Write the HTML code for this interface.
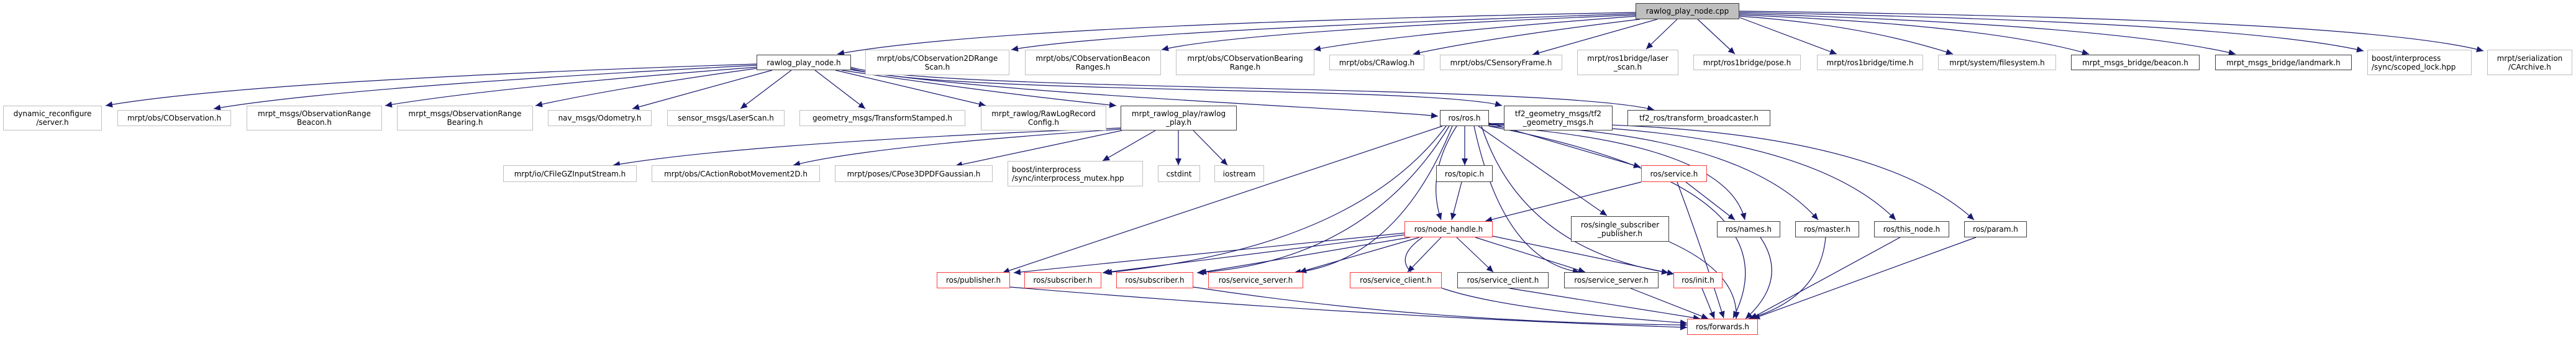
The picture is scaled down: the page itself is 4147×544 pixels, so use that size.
<!DOCTYPE html>
<html><head><meta charset="utf-8">
<style>
html,body{margin:0;padding:0;background:#fff;}
#c{position:relative;width:4147px;height:544px;overflow:hidden;font-family:"DejaVu Sans","Liberation Sans",sans-serif;font-size:12px;color:#000;}
.n{position:absolute;box-sizing:border-box;background:#fff;display:flex;align-items:center;justify-content:center;text-align:center;line-height:14px;white-space:nowrap;}
.g{border:1.5px solid #bfbfbf;}
.b{border:1.5px solid #404040;}
.r{border:1.5px solid #ff3b3b;}
.l{justify-content:flex-start;text-align:left;padding-left:6px;}
svg{position:absolute;left:0;top:0;}
</style></head><body><div id="c">
<svg width="4147" height="544" viewBox="0 0 4147 544">
<defs><marker id="a" markerUnits="userSpaceOnUse" markerWidth="12" markerHeight="10" refX="11" refY="5" orient="auto"><path d="M0,0 L11,5 L0,10 z" fill="#191970"/></marker></defs>
<g fill="none" stroke="#191970" stroke-width="1.2" marker-end="url(#a)">
<path d="M2634,20 Q1600,40 1348,87"/>
<path d="M2634,22 Q1800,50 1628,80"/>
<path d="M2634,24 Q2000,50 1870,80"/>
<path d="M2634,26 Q2250,55 2115,80"/>
<path d="M2640,31 Q2400,60 2275,87"/>
<path d="M2668,31 L2467,88"/>
<path d="M2700,31 L2650,79"/>
<path d="M2733,31 L2793,87"/>
<path d="M2800,28 L2957,87"/>
<path d="M2800,26 Q3000,40 3144,87"/>
<path d="M2800,24 Q3200,40 3363,87"/>
<path d="M2800,22 Q3400,40 3599,87"/>
<path d="M2800,20 Q3600,35 3805,82"/>
<path d="M2800,18 Q3800,30 3998,82"/>
<path d="M1219,103 Q400,130 170,170"/>
<path d="M1219,105 Q550,140 344,175"/>
<path d="M1219,108 Q800,140 620,170"/>
<path d="M1219,110 Q1000,140 862,170"/>
<path d="M1243,113 L1018,175"/>
<path d="M1274,113 L1192,175"/>
<path d="M1312,113 L1393,175"/>
<path d="M1345,113 L1587,170"/>
<path d="M1355,113 Q1600,150 1797,170"/>
<path d="M1369,112 C1600,152 2200,175 2315,187"/>
<path d="M1369,110 C1500,152 2300,138 2418,170"/>
<path d="M1369,108 C1500,148 2500,135 2663,177"/>
<path d="M1804,206 Q1200,230 987,266"/>
<path d="M1804,208 Q1400,235 1277,266"/>
<path d="M1806,210 L1538,267"/>
<path d="M1860,210 L1775,259"/>
<path d="M1897,210 L1897,266"/>
<path d="M1921,210 L1976,266"/>
<path d="M2358,203 L2358,266"/>
<path d="M2397,198 L2641,269"/>
<path d="M2345,203 Q2295,280 2320,354"/>
<path d="M2322,203 L1614,439"/>
<path d="M2328,203 Q2180,400 1779,439"/>
<path d="M2333,203 Q2200,420 1927,439"/>
<path d="M2338,203 Q2250,420 2083,439"/>
<path d="M2380,203 L2587,347"/>
<path d="M2373,203 Q2420,420 2543,438"/>
<path d="M2385,203 Q2450,400 2686,439"/>
<path d="M2397,203 Q2780,230 2809,354"/>
<path d="M2397,201 Q2800,210 2927,354"/>
<path d="M2397,200 Q2900,200 3052,354"/>
<path d="M2397,199 Q3000,190 3178,354"/>
<path d="M2397,203 Q2900,300 2790,512"/>
<path d="M2353,293 L2337,354"/>
<path d="M2642,293 L2391,356"/>
<path d="M2714,293 L2793,354"/>
<path d="M2700,293 Q2740,400 2775,512"/>
<path d="M2261,375 L1632,439"/>
<path d="M2261,378 L1775,439"/>
<path d="M2270,382 L1931,439"/>
<path d="M2285,382 L2092,438"/>
<path d="M2320,382 L2266,438"/>
<path d="M2345,382 L2404,438"/>
<path d="M2375,382 L2552,438"/>
<path d="M2403,380 L2695,441"/>
<path d="M2290,382 Q2150,480 2716,520"/>
<path d="M1626,462 Q2200,510 2716,527"/>
<path d="M1921,462 Q2300,520 2716,523"/>
<path d="M2430,464 L2737,513"/>
<path d="M2625,464 L2750,513"/>
<path d="M2740,464 L2760,513"/>
<path d="M2687,389 Q2800,440 2795,513"/>
<path d="M2834,382 Q2880,450 2810,513"/>
<path d="M2939,382 Q2930,480 2815,513"/>
<path d="M3059,382 L2818,513"/>
<path d="M3181,382 L2822,513"/>
</g>
</svg>

<div class="n b" style="left:2633px;top:5px;width:167px;height:26px;background:#bfbfbf;">rawlog_play_node.cpp</div>

<div class="n b" style="left:1218px;top:88px;width:152px;height:25px;">rawlog_play_node.h</div>
<div class="n g" style="left:1393px;top:80px;width:232px;height:41px;">mrpt/obs/CObservation2DRange<br>Scan.h</div>
<div class="n g" style="left:1650px;top:80px;width:219px;height:41px;">mrpt/obs/CObservationBeacon<br>Ranges.h</div>
<div class="n g" style="left:1893px;top:80px;width:223px;height:41px;">mrpt/obs/CObservationBearing<br>Range.h</div>
<div class="n g" style="left:2140px;top:88px;width:153px;height:25px;">mrpt/obs/CRawlog.h</div>
<div class="n g" style="left:2318px;top:88px;width:197px;height:25px;">mrpt/obs/CSensoryFrame.h</div>
<div class="n g" style="left:2539px;top:80px;width:163px;height:41px;">mrpt/ros1bridge/laser<br>_scan.h</div>
<div class="n g" style="left:2726px;top:88px;width:173px;height:25px;">mrpt/ros1bridge/pose.h</div>
<div class="n g" style="left:2925px;top:88px;width:171px;height:25px;">mrpt/ros1bridge/time.h</div>
<div class="n g" style="left:3120px;top:88px;width:190px;height:25px;">mrpt/system/filesystem.h</div>
<div class="n b" style="left:3334px;top:88px;width:207px;height:25px;">mrpt_msgs_bridge/beacon.h</div>
<div class="n b" style="left:3566px;top:88px;width:220px;height:25px;">mrpt_msgs_bridge/landmark.h</div>
<div class="n g l" style="left:3811px;top:80px;width:168px;height:41px;">boost/interprocess<br>/sync/scoped_lock.hpp</div>
<div class="n g" style="left:4004px;top:80px;width:137px;height:41px;">mrpt/serialization<br>/CArchive.h</div>

<div class="n g" style="left:5px;top:170px;width:159px;height:40px;">dynamic_reconfigure<br>/server.h</div>
<div class="n g" style="left:189px;top:177px;width:183px;height:26px;">mrpt/obs/CObservation.h</div>
<div class="n g" style="left:397px;top:170px;width:218px;height:40px;">mrpt_msgs/ObservationRange<br>Beacon.h</div>
<div class="n g" style="left:639px;top:170px;width:219px;height:40px;">mrpt_msgs/ObservationRange<br>Bearing.h</div>
<div class="n g" style="left:882px;top:177px;width:167px;height:26px;">nav_msgs/Odometry.h</div>
<div class="n g" style="left:1074px;top:177px;width:189px;height:26px;">sensor_msgs/LaserScan.h</div>
<div class="n g" style="left:1287px;top:177px;width:267px;height:26px;">geometry_msgs/TransformStamped.h</div>
<div class="n g" style="left:1579px;top:170px;width:202px;height:40px;">mrpt_rawlog/RawLogRecord<br>Config.h</div>
<div class="n b" style="left:1804px;top:170px;width:187px;height:40px;">mrpt_rawlog_play/rawlog<br>_play.h</div>
<div class="n b" style="left:2318px;top:177px;width:79px;height:26px;">ros/ros.h</div>
<div class="n b" style="left:2421px;top:170px;width:175px;height:40px;">tf2_geometry_msgs/tf2<br>_geometry_msgs.h</div>
<div class="n b" style="left:2620px;top:177px;width:230px;height:26px;">tf2_ros/transform_broadcaster.h</div>

<div class="n g" style="left:810px;top:266px;width:215px;height:27px;">mrpt/io/CFileGZInputStream.h</div>
<div class="n g" style="left:1049px;top:266px;width:271px;height:27px;">mrpt/obs/CActionRobotMovement2D.h</div>
<div class="n g" style="left:1344px;top:266px;width:254px;height:27px;">mrpt/poses/CPose3DPDFGaussian.h</div>
<div class="n g l" style="left:1622px;top:259px;width:218px;height:41px;">boost/interprocess<br>/sync/interprocess_mutex.hpp</div>
<div class="n g" style="left:1864px;top:266px;width:68px;height:27px;">cstdint</div>
<div class="n g" style="left:1955px;top:266px;width:80px;height:27px;">iostream</div>
<div class="n b" style="left:2312px;top:266px;width:91px;height:27px;">ros/topic.h</div>
<div class="n r" style="left:2642px;top:266px;width:106px;height:27px;">ros/service.h</div>

<div class="n r" style="left:2261px;top:356px;width:142px;height:26px;">ros/node_handle.h</div>
<div class="n b" style="left:2529px;top:348px;width:158px;height:41px;">ros/single_subscriber<br>_publisher.h</div>
<div class="n b" style="left:2764px;top:356px;width:102px;height:26px;">ros/names.h</div>
<div class="n b" style="left:2890px;top:356px;width:103px;height:26px;">ros/master.h</div>
<div class="n b" style="left:3017px;top:356px;width:121px;height:26px;">ros/this_node.h</div>
<div class="n b" style="left:3162px;top:356px;width:101px;height:26px;">ros/param.h</div>

<div class="n r" style="left:1508px;top:438px;width:118px;height:26px;">ros/publisher.h</div>
<div class="n r" style="left:1649px;top:438px;width:124px;height:26px;">ros/subscriber.h</div>
<div class="n r" style="left:1797px;top:438px;width:124px;height:26px;">ros/subscriber.h</div>
<div class="n r" style="left:1945px;top:438px;width:153px;height:26px;">ros/service_server.h</div>
<div class="n r" style="left:2173px;top:438px;width:148px;height:26px;">ros/service_client.h</div>
<div class="n b" style="left:2346px;top:438px;width:147px;height:26px;">ros/service_client.h</div>
<div class="n b" style="left:2518px;top:438px;width:152px;height:26px;">ros/service_server.h</div>
<div class="n r" style="left:2694px;top:438px;width:79px;height:26px;">ros/init.h</div>

<div class="n r" style="left:2716px;top:513px;width:114px;height:26px;">ros/forwards.h</div>
</div></body></html>
